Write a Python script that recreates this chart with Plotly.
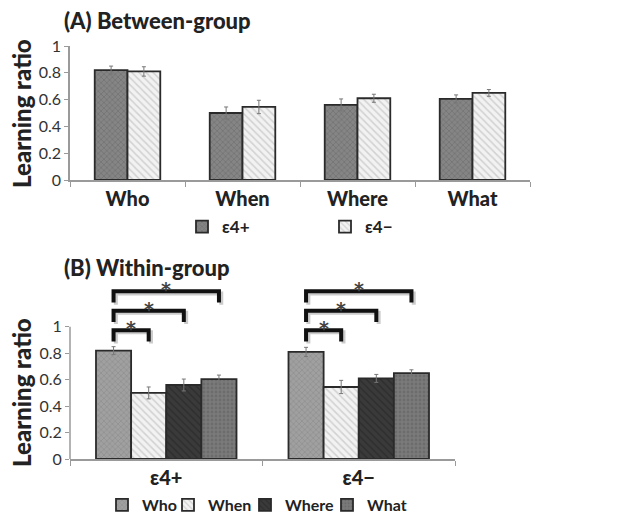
import plotly.graph_objects as go

# ---- data ----
tasks = ["Who", "When", "Where", "What"]
groups = ["ε4+", "ε4−"]
e4pos_mean = [0.82, 0.50, 0.56, 0.605]
e4pos_err = [0.03, 0.045, 0.045, 0.03]
e4neg_mean = [0.81, 0.545, 0.61, 0.65]
e4neg_err = [0.035, 0.05, 0.03, 0.025]
y_ticks = [0, 0.2, 0.4, 0.6, 0.8, 1]
y_tick_labels = ["0", "0.2", "0.4", "0.6", "0.8", "1"]
sig_pairs = [("Who", "When"), ("Who", "Where"), ("Who", "What")]

# page body has an 8px margin: shift all layout positions accordingly
OFF = 8
W, H = 641, 516
def px(x):
    return (x - OFF) / W
def py(y):
    return 1 - (y - OFF) / H

FONT = "Lato"
TXT = "#222222"
HEAVY = 900
AXC = "#9a9a9a"

fig = go.Figure()

# ---- panel A ----
styleA = {
    "ε4+": dict(color="#858585", pattern=dict(shape="x", fgcolor="#5a5a5a", size=4, solidity=0.3)),
    "ε4−": dict(color="#f2f2f2", pattern=dict(shape="\\", fgcolor="#b0b0b0", size=5, solidity=0.3)),
}
legendA_left = [182, 325]          # pixel left edge of each legend entry
gapA = 0.43
wA = (1 - gapA) / 2
legend_layout = {}
for k, (g, m, e) in enumerate([("ε4+", e4pos_mean, e4pos_err), ("ε4−", e4neg_mean, e4neg_err)]):
    st = styleA[g]
    lname = "legend" if k == 0 else f"legend{k + 1}"
    fig.add_trace(go.Bar(
        x=tasks, y=m, name=g, xaxis="x", yaxis="y", legend=lname,
        width=wA, offset=-(1 - gapA) / 2 + k * wA,
        marker=dict(color=st["color"], pattern=st["pattern"], line=dict(color="#2a2a2a", width=1.8)),
        error_y=dict(type="data", array=e, color="#777777", thickness=1, width=2),
    ))
    legend_layout[lname] = dict(orientation="h", x=px(legendA_left[k]), y=py(227),
                                xanchor="left", yanchor="middle", itemwidth=30,
                                font=dict(family=FONT, size=17, color=TXT, weight="bold"),
                                bgcolor="rgba(0,0,0,0)")

# ---- panel B ----
styleB = {
    "Who": dict(color="#a0a0a0", pattern=dict(shape="x", fgcolor="#7a7a7a", size=4, solidity=0.3)),
    "When": dict(color="#f2f2f2", pattern=dict(shape="\\", fgcolor="#b0b0b0", size=5, solidity=0.3)),
    "Where": dict(color="#3a3a3a", pattern=dict(shape="\\", fgcolor="#222222", size=5, solidity=0.3)),
    "What": dict(color="#7a7a7a", pattern=dict(shape=".", fgcolor="#5e5e5e", size=4, solidity=0.4)),
}
legendB_left = [102, 168, 245, 327]
gapB = 0.27
wB = (1 - gapB) / 4
for k, t in enumerate(tasks):
    st = styleB[t]
    lname = f"legend{k + 3}"
    fig.add_trace(go.Bar(
        x=groups, y=[e4pos_mean[k], e4neg_mean[k]], name=t, xaxis="x2", yaxis="y2", legend=lname,
        width=wB, offset=-(1 - gapB) / 2 + k * wB,
        marker=dict(color=st["color"], pattern=st["pattern"], line=dict(color="#2a2a2a", width=1.8)),
        error_y=dict(type="data", array=[e4pos_err[k], e4neg_err[k]], color="#777777", thickness=1, width=2),
    ))
    legend_layout[lname] = dict(orientation="h", x=px(legendB_left[k]), y=py(505),
                                xanchor="left", yanchor="middle", itemwidth=30,
                                font=dict(family=FONT, size=16, color=TXT, weight="bold"),
                                bgcolor="rgba(0,0,0,0)")

# ---- significance brackets (panel B) ----
def bar_center(gi, task):
    k = tasks.index(task)
    return gi - (1 - gapB) / 2 + (k + 0.5) * wB

shapes = [
    # panel B value axis line only spans the tick range
    dict(type="line", xref="x2 domain", yref="y2", x0=0, x1=0, y0=0, y1=max(y_ticks),
         line=dict(color=AXC, width=1.5)),
]
annotations = []
base, step, drop = 0.975, 0.147, 0.085
for gi in range(len(groups)):
    for li, (a, b) in enumerate(sig_pairs):
        x1, x2 = bar_center(gi, a), bar_center(gi, b)
        yl = base + li * step
        dx, dy = 0.012, 0.016
        spath = (f"M {x1 + dx},{yl - drop - dy} L {x1 + dx},{yl - dy} "
                 f"L {x2 + dx},{yl - dy} L {x2 + dx},{yl - drop - dy}")
        path = f"M {x1},{yl - drop} L {x1},{yl} L {x2},{yl} L {x2},{yl - drop}"
        shapes.append(dict(type="path", path=spath, xref="x2", yref="y2",
                           line=dict(color="rgba(160,160,160,0.55)", width=4)))
        shapes.append(dict(type="path", path=path, xref="x2", yref="y2",
                           line=dict(color="#111111", width=4)))
        annotations.append(dict(x=(x1 + x2) / 2, y=yl, xref="x2", yref="y2", text="<b>*</b>",
                                showarrow=False, yanchor="middle", yshift=2,
                                font=dict(family="DejaVu Sans", size=19, color="#444444")))

# ---- titles ----
annotations += [
    dict(text="(A) Between-group", x=px(62), y=py(20), xref="paper", yref="paper",
         xanchor="left", yanchor="middle", showarrow=False,
         font=dict(family=FONT, size=22, color=TXT, weight=HEAVY)),
    dict(text="(B) Within-group", x=px(62), y=py(267), xref="paper", yref="paper",
         xanchor="left", yanchor="middle", showarrow=False,
         font=dict(family=FONT, size=22, color=TXT, weight=HEAVY)),
    dict(text="Learning ratio", x=px(21), y=py(114), xref="paper", yref="paper",
         textangle=-90, xanchor="center", yanchor="middle", showarrow=False,
         font=dict(family=FONT, size=24, color=TXT, weight=HEAVY)),
    dict(text="Learning ratio", x=px(21), y=py(393), xref="paper", yref="paper",
         textangle=-90, xanchor="center", yanchor="middle", showarrow=False,
         font=dict(family=FONT, size=24, color=TXT, weight=HEAVY)),
]

xaxis_common = dict(showgrid=False, zeroline=False, linecolor=AXC, linewidth=1.5,
                    ticks="outside", tickcolor=AXC, ticklen=5, showline=True,
                    tickson="boundaries",
                    tickfont=dict(family=FONT, size=20, color=TXT, weight=HEAVY))
yaxis_common = dict(showgrid=False, zeroline=False, linecolor=AXC, linewidth=1.5,
                    ticks="outside", tickcolor=AXC, ticklen=4,
                    tickvals=y_ticks, ticktext=y_tick_labels,
                    tickfont=dict(family=FONT, size=16, color="#333333"))

fig.update_layout(
    width=W, height=H, margin=dict(l=0, r=0, t=0, b=0, autoexpand=False),
    plot_bgcolor="white", paper_bgcolor="white",
    barmode="group",
    font=dict(family=FONT, color=TXT),
    xaxis=dict(domain=[px(70), px(530)], anchor="y", **xaxis_common),
    yaxis=dict(domain=[py(180), py(46)], anchor="x", range=[0, 1], showline=True, **yaxis_common),
    xaxis2=dict(domain=[px(70), px(455)], anchor="y2", **xaxis_common),
    yaxis2=dict(domain=[py(459), py(274)], anchor="x2", range=[0, 1.4], showline=False, **yaxis_common),
    shapes=shapes,
    annotations=annotations,
    showlegend=True,
    **legend_layout,
)

fig.write_html("out.html")
